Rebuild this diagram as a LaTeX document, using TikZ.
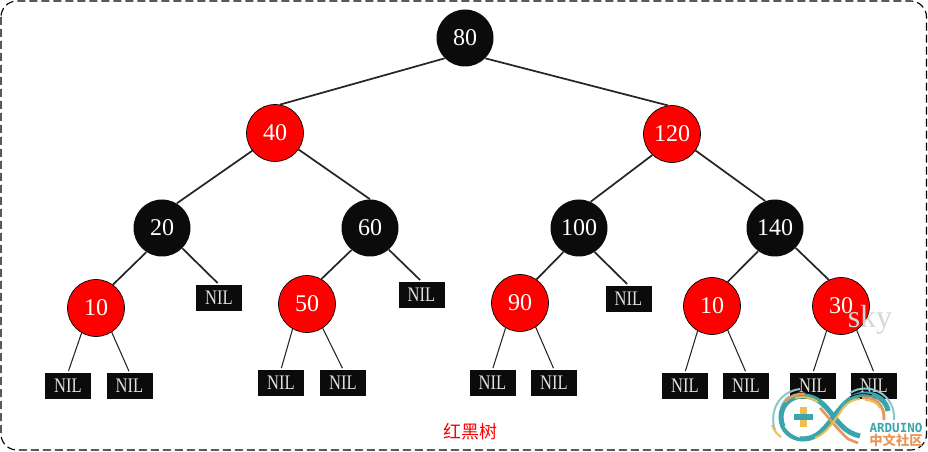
\documentclass[tikz,border=0pt]{standalone}
\usepackage{fontspec}
\setmainfont{Liberation Serif}
\newfontfamily\nilfont{Liberation Serif}[FakeStretch=0.8]
\newfontfamily\cjkfont{Noto Sans CJK SC}
\newfontfamily\logofont{DejaVu Sans Mono}
\definecolor{nodeblack}{HTML}{0B0B0B}
\definecolor{logoteal}{HTML}{3AA5AC}
\definecolor{logolight}{HTML}{8CC7CB}
\definecolor{logoorange}{HTML}{E8975C}
\definecolor{logoyellow}{HTML}{EFBE50}
\tikzset{
  redNode/.style={circle,draw=black,line width=0.5pt,fill=red,text=white,minimum size=42.75pt,inner sep=0pt,font=\fontsize{18}{18}\selectfont},
  blackNode/.style={circle,fill=nodeblack,text=white,minimum size=42.75pt,inner sep=0pt,font=\fontsize{18}{18}\selectfont},
  nilNode/.style={rectangle,fill=nodeblack,text=white!88!black,minimum width=34.5pt,minimum height=20pt,inner sep=0pt,font=\nilfont\fontsize{15.5}{15.5}\selectfont},
  branch/.style={color=black!85,line width=1.3pt},
  leaf/.style={color=black!85,line width=0.8pt,shorten >=1pt},
}
\begin{document}
\begin{tikzpicture}[x=0.75pt,y=-0.75pt]
  \useasboundingbox (0,0) rectangle (928,452);
  \draw[line width=0.85pt,dash pattern=on 6pt off 3pt,rounded corners=12pt] (1,1) rectangle (926.5,450);

  % red and black nodes
  \node[blackNode] (N80) at (465,38) {80};
  \node[redNode] (N40) at (275,133) {40};
  \node[redNode] (N120) at (672,134) {120};
  \node[blackNode] (N20) at (162,228) {20};
  \node[blackNode] (N60) at (370,228) {60};
  \node[blackNode] (N100) at (579,228) {100};
  \node[blackNode] (N140) at (775,228) {140};
  \node[redNode] (N10) at (96,308) {10};
  \node[redNode] (N50) at (307,304) {50};
  \node[redNode] (N90) at (520,303) {90};
  \node[redNode] (M10) at (712,306) {10};
  \node[redNode] (N30) at (841,306) {30};

  % leaves
  \node[nilNode] (L20) at (219,298) {NIL};
  \node[nilNode] (L60) at (421.5,295) {NIL};
  \node[nilNode] (L100) at (628.5,299) {NIL};
  \foreach \name/\x/\y in {A/68/386,B/129.5/386,C/281/383,D/343/383,E/492.5/383,F/554/383,G/685/386,H/746/386,I/813/386,J/874/386}
    \node[nilNode] (L\name) at (\x,\y) {NIL};

  \draw[branch] (N80.225)--(N40.80);
  \draw[branch] (N80.315)--(N120.98);
  \draw[branch] (N40.218)--(N20.59);
  \draw[branch] (N40.325)--(N60.90);
  \draw[branch] (N120.227)--(N100.66);
  \draw[branch] (N120.325)--(N140.110);
  \draw[branch] (N20.237)--(N10.54);
  \draw[branch] (N60.230)--(N50.60);
  \draw[branch] (N100.237)--(N90.55);
  \draw[branch] (N140.234)--(M10.57);
  \draw[branch] (N140.316)--(N30.115);
  \draw[branch,shorten >=1.5pt] (N20.315)--(L20.north);
  \draw[branch,shorten >=1.5pt] (N60.311)--(L60.north);
  \draw[branch,shorten >=1.5pt] (N100.303)--(L100.north);

  \foreach \from/\a/\b in {N10/A/B,N50/C/D,N90/E/F,M10/G/H,N30/I/J}{
    \draw[leaf] (\from.240)--(L\a.north);
    \draw[leaf] (\from.303)--(L\b.north);
  }

  \node[text=red,font=\cjkfont\fontsize{13.5}{13.5}\selectfont] (title) at (470,432) {红黑树};
  \node[text=black!16,font=\fontsize{24}{24}\selectfont] (sky) at (870,320) {sky};

  % infinity mark
  \draw[logolight,line width=1.5pt] (775,430) .. controls (769,412) and (778,392) .. (800,389);
  \draw[logolight,line width=1.5pt] (850,393) .. controls (868,381) and (896,394) .. (894,420);
  \draw[logolight,line width=3pt] (790,397) .. controls (782,402) and (780,412) .. (782,422);
  \draw[logoteal,line width=3.8pt] (860,436) .. controls (846,433) and (840,424) .. (833,416) .. controls (824,403) and (815,396) .. (803,396) .. controls (790,396) and (781,406) .. (781,417) .. controls (781,430) and (791,439) .. (803,439) .. controls (818,439) and (826,427) .. (835,415) .. controls (845,402) and (853,394) .. (866,394) .. controls (878,394) and (887,402) .. (888,411);
  \draw[white,line width=0.9pt] (785,426) .. controls (788,431) and (793,435) .. (800,437);
  \draw[logoorange,line width=2pt] (785,402) .. controls (790,396) and (797,393) .. (805,394);
  \draw[logoorange,line width=2pt] (820,408) .. controls (826,414) and (836,428) .. (848,439) -- (858,443);
  \draw[logoorange,line width=2.2pt] (862,398) .. controls (875,396) and (885,405) .. (884,420);
  \draw[logoyellow,line width=1.5pt] (795,398) .. controls (805,396) and (812,398) .. (818,402);
  \draw[logoyellow,line width=1.5pt] (815,438) .. controls (826,434) and (835,420) .. (843,408) .. controls (848,402) and (854,399) .. (860,399);
  \draw[logoyellow,line width=1.5pt] (772,425) .. controls (774,431) and (777,434) .. (781,437);
  \draw[logoyellow,line width=1.5pt] (865,400) .. controls (872,400) and (878,403) .. (880,408);
  \draw[nodeblack,line width=0.6pt] (850,397) .. controls (858,393) and (866,393) .. (872,395);
  \fill[logoteal] (794,414) rectangle (813,420);
  \fill[logoyellow] (800,407) rectangle (807,414);
  \fill[logoyellow] (800,420) rectangle (807,427);
  \node[text=logoteal,font=\logofont\bfseries\fontsize{9.4}{9.4}\selectfont,inner sep=0pt] (ardu) at (896,428) {ARDUINO};
  \node[text=logoorange,font=\cjkfont\bfseries\fontsize{10}{10}\selectfont,inner sep=0pt] (cnsq) at (896,440.5) {中文社区};
\end{tikzpicture}
\end{document}
